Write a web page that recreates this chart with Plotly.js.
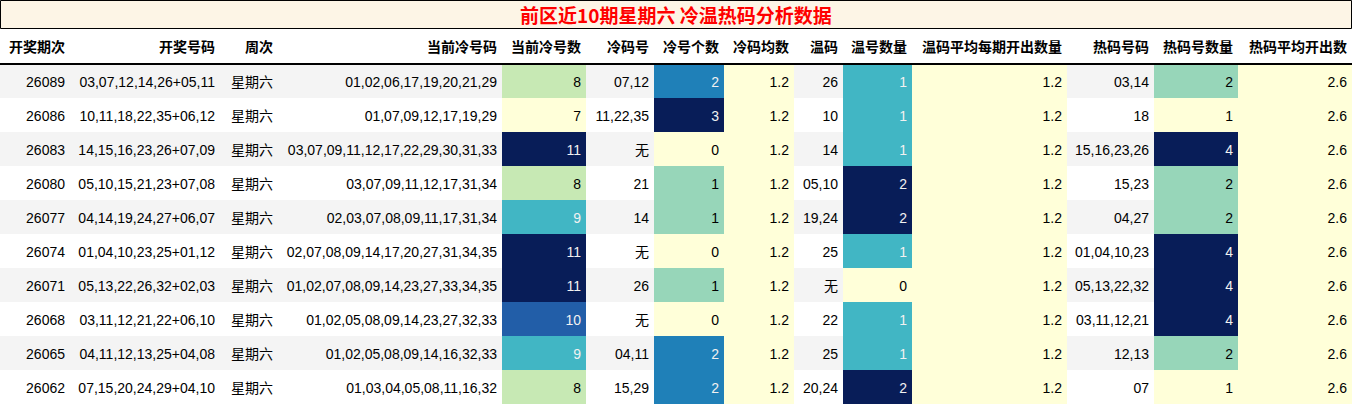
<!DOCTYPE html>
<html>
<head>
<meta charset="utf-8">
<script src="https://cdn.plot.ly/plotly-3.0.1.min.js"></script>
<style>
html,body{margin:0;padding:0;background:#fff;}
#chart{width:1352px;height:406px;}
#chart .cell-text{translate:3px 4px;}
</style>
</head>
<body>
<div id="chart"></div>
<script>
var chartTitle = '前区近10期星期六 冷温热码分析数据';
var headers = ['开奖期次','开奖号码','周次','当前冷号码','当前冷号数','冷码号','冷号个数','冷码均数','温码','温号数量','温码平均每期开出数量','热码号码','热码号数量','热码平均开出数'];
var periods = ['26089','26086','26083','26080','26077','26074','26071','26068','26065','26062'];
var draws = ['03,07,12,14,26+05,11','10,11,18,22,35+06,12','14,15,16,23,26+07,09','05,10,15,21,23+07,08','04,14,19,24,27+06,07','01,04,10,23,25+01,12','05,13,22,26,32+02,03','03,11,12,21,22+06,10','04,11,12,13,25+04,08','07,15,20,24,29+04,10'];
var weekdays = ['星期六','星期六','星期六','星期六','星期六','星期六','星期六','星期六','星期六','星期六'];
var coldCodes = ['01,02,06,17,19,20,21,29','01,07,09,12,17,19,29','03,07,09,11,12,17,22,29,30,31,33','03,07,09,11,12,17,31,34','02,03,07,08,09,11,17,31,34','02,07,08,09,14,17,20,27,31,34,35','01,02,07,08,09,14,23,27,33,34,35','01,02,05,08,09,14,23,27,32,33','01,02,05,08,09,14,16,32,33','01,03,04,05,08,11,16,32'];
var coldCount = [8,7,11,8,9,11,11,10,9,8];
var coldHits = ['07,12','11,22,35','无','21','14','无','26','无','04,11','15,29'];
var coldHitCount = [2,3,0,1,1,0,1,0,2,2];
var coldAvg = [1.2,1.2,1.2,1.2,1.2,1.2,1.2,1.2,1.2,1.2];
var warmCodes = ['26','10','14','05,10','19,24','25','无','22','25','20,24'];
var warmCount = [1,1,1,2,2,1,0,1,1,2];
var warmAvg = [1.2,1.2,1.2,1.2,1.2,1.2,1.2,1.2,1.2,1.2];
var hotCodes = ['03,14','18','15,16,23,26','15,23','04,27','01,04,10,23','05,13,22,32','03,11,12,21','12,13','07'];
var hotCount = [2,1,4,2,2,4,4,4,2,1];
var hotAvg = [2.6,2.6,2.6,2.6,2.6,2.6,2.6,2.6,2.6,2.6];

// YlGnBu colormap stops
var ylgnbu = ['#ffffd9','#edf8b1','#c7e9b4','#7fcdbb','#41b6c4','#1d91c0','#225ea8','#253494','#081d58'];
function hexToRgb(h){return [parseInt(h.substr(1,2),16),parseInt(h.substr(3,2),16),parseInt(h.substr(5,2),16)];}
function cmap(t){
  t = Math.max(0, Math.min(1, t));
  var n = ylgnbu.length - 1, p = t * n, i = Math.min(Math.floor(p), n - 1), f = p - i;
  var a = hexToRgb(ylgnbu[i]), b = hexToRgb(ylgnbu[i+1]);
  return [0,1,2].map(function(k){return Math.round(a[k] + (b[k]-a[k])*f);});
}
function lum(c){
  var r = c.map(function(v){v/=255;return v<=0.03928? v/12.92 : Math.pow((v+0.055)/1.055,2.4);});
  return 0.2126*r[0]+0.7152*r[1]+0.0722*r[2];
}
function gradient(vals){
  var mn = Math.min.apply(null, vals), mx = Math.max.apply(null, vals);
  var fills = [], fonts = [];
  vals.forEach(function(v){
    var c = cmap(mx > mn ? (v - mn)/(mx - mn) : 0);
    fills.push('rgb(' + c.join(',') + ')');
    fonts.push(lum(c) < 0.408 ? '#f1f1f1' : '#000000');
  });
  return {fills: fills, fonts: fonts};
}
var rowBg = periods.map(function(_, i){return i % 2 === 0 ? '#f4f4f4' : '#ffffff';});
var plainFont = periods.map(function(){return '#000000';});

var columns = [
  {v: periods}, {v: draws}, {v: weekdays}, {v: coldCodes},
  {v: coldCount, g: true}, {v: coldHits}, {v: coldHitCount, g: true},
  {v: coldAvg, g: true, f: 1}, {v: warmCodes}, {v: warmCount, g: true},
  {v: warmAvg, g: true, f: 1}, {v: hotCodes}, {v: hotCount, g: true},
  {v: hotAvg, g: true, f: 1}
];
var cellValues = [], cellFills = [], cellFonts = [];
columns.forEach(function(col){
  cellValues.push(col.v.map(function(x){return col.f ? x.toFixed(col.f) : String(x);}));
  if (col.g) {
    var g = gradient(col.v);
    cellFills.push(g.fills); cellFonts.push(g.fonts);
  } else {
    cellFills.push(rowBg); cellFonts.push(plainFont);
  }
});
var colWidths = [70,150,58,224,84,68,70,70,49,69,155,87,84,114];

var fontFam = '"Liberation Sans", Arial, "Noto Sans CJK SC", sans-serif';
var trace = {
  type: 'table',
  domain: {x: [0, 1], y: [0, 377/406]},
  columnwidth: colWidths,
  header: {
    values: headers,
    align: 'right',
    height: 35,
    fill: {color: '#ffffff'},
    line: {color: '#ffffff', width: 0},
    font: {family: fontFam, size: 14, color: '#000000', weight: 'bold'}
  },
  cells: {
    values: cellValues,
    align: 'right',
    height: 34,
    fill: {color: cellFills},
    line: {color: cellFills, width: 0},
    font: {family: fontFam, size: 14, color: cellFonts}
  }
};

var layout = {
  width: 1352, height: 406,
  margin: {l: 0, r: 0, t: 0, b: 0},
  paper_bgcolor: '#ffffff',
  shapes: [
    {type: 'rect', xref: 'paper', yref: 'paper', x0: 0.5/1352, x1: 1351.5/1352, y0: (406-28.5)/406, y1: 405.5/406,
     fillcolor: '#fdf5e6', line: {color: '#000000', width: 1}, layer: 'below'},
    {type: 'line', xref: 'paper', yref: 'paper', x0: 0, x1: 1, y0: (406-64)/406, y1: (406-64)/406,
     line: {color: '#000000', width: 2}}
  ],
  annotations: [
    {text: chartTitle, xref: 'paper', yref: 'paper', x: 0.5, y: (406-14.5)/406, xanchor: 'center', yanchor: 'middle',
     showarrow: false, font: {family: '"Noto Sans CJK SC", sans-serif', size: 19, color: '#ff0000', weight: 'bold'}}
  ]
};
Plotly.newPlot('chart', [trace], layout, {displayModeBar: false, staticPlot: true});
</script>
</body>
</html>
